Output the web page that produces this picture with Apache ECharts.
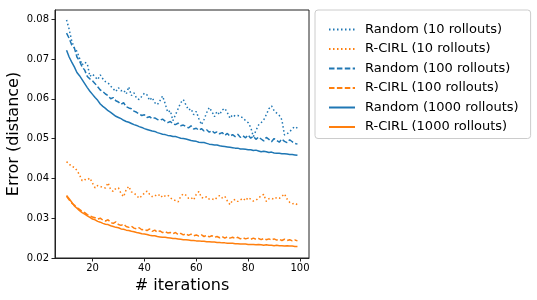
<!DOCTYPE html>
<html>
<head>
<meta charset="utf-8">
<script src="https://cdn.jsdelivr.net/npm/echarts@6/dist/echarts.min.js"></script>
<style>html,body{margin:0;padding:0;background:#fff}#c{width:537px;height:300px}</style>
</head>
<body>
<div id="c"></div>
<script>
const iterStart = 10;
const xTicks = [20, 40, 60, 80, 100];
const yTicks = [0.02, 0.03, 0.04, 0.05, 0.06, 0.07, 0.08];
const seriesNames = ["Random (10 rollouts)", "R-CIRL (10 rollouts)", "Random (100 rollouts)", "R-CIRL (100 rollouts)", "Random (1000 rollouts)", "R-CIRL (1000 rollouts)"];

const random10 = [0.0798,0.0775,0.0745,0.0728,0.0719,0.0702,0.0685,0.0692,0.0688,0.0656,
0.0662,0.0655,0.0648,0.0660,0.0650,0.0643,0.0640,0.0632,0.0625,0.0618,
0.0628,0.0620,0.0622,0.0612,0.0630,0.0608,0.0615,0.0601,0.0598,0.0606,
0.0614,0.0610,0.0596,0.0603,0.0590,0.0585,0.0595,0.0607,0.0588,0.0566,
0.0570,0.0545,0.0560,0.0575,0.0590,0.0598,0.0585,0.0572,0.0575,0.0560,
0.0568,0.0550,0.0535,0.0548,0.0565,0.0578,0.0568,0.0555,0.0568,0.0560,
0.0572,0.0576,0.0565,0.0551,0.0560,0.0556,0.0558,0.0555,0.0552,0.0545,
0.0540,0.0528,0.0505,0.0520,0.0534,0.0540,0.0547,0.0560,0.0575,0.0582,
0.0570,0.0564,0.0558,0.0547,0.0509,0.0512,0.0517,0.0525,0.0530,0.0526];

const rcirl10 = [0.0442,0.0436,0.0430,0.0428,0.0420,0.0409,0.0394,0.0397,0.0396,0.0401,
0.0388,0.0376,0.0382,0.0380,0.0377,0.0376,0.0389,0.0372,0.0367,0.0375,
0.0376,0.0362,0.0354,0.0372,0.0380,0.0366,0.0363,0.0357,0.0350,0.0356,
0.0363,0.0368,0.0360,0.0354,0.0358,0.0355,0.0360,0.0352,0.0356,0.0358,
0.0351,0.0347,0.0344,0.0341,0.0355,0.0361,0.0358,0.0350,0.0352,0.0346,
0.0360,0.0367,0.0352,0.0350,0.0354,0.0348,0.0349,0.0346,0.0352,0.0357,
0.0351,0.0355,0.0343,0.0334,0.0345,0.0347,0.0342,0.0346,0.0350,0.0344,
0.0352,0.0348,0.0343,0.0345,0.0351,0.0356,0.0360,0.0342,0.0349,0.0350,
0.0347,0.0352,0.0350,0.0355,0.0361,0.0348,0.0340,0.0336,0.0338,0.0334];

const random100 = [0.0765,0.0752,0.0735,0.0728,0.0705,0.0695,0.0680,0.0672,0.0656,0.0650,
0.0645,0.0638,0.0630,0.0622,0.0618,0.0612,0.0608,0.0600,0.0603,0.0595,
0.0592,0.0586,0.0590,0.0580,0.0577,0.0575,0.0569,0.0566,0.0562,0.0558,
0.0560,0.0553,0.0555,0.0550,0.0552,0.0548,0.0546,0.0549,0.0544,0.0540,
0.0543,0.0537,0.0535,0.0539,0.0532,0.0534,0.0530,0.0527,0.0532,0.0524,
0.0526,0.0521,0.0525,0.0519,0.0522,0.0516,0.0520,0.0514,0.0517,0.0512,
0.0515,0.0508,0.0513,0.0506,0.0510,0.0505,0.0511,0.0503,0.0507,0.0502,
0.0509,0.0501,0.0506,0.0498,0.0504,0.0499,0.0494,0.0503,0.0498,0.0492,
0.0500,0.0495,0.0491,0.0499,0.0493,0.0490,0.0497,0.0492,0.0488,0.0486];

const rcirl100 = [0.0355,0.0346,0.0338,0.0333,0.0327,0.0322,0.0317,0.0314,0.0309,0.0306,
0.0303,0.0301,0.0298,0.0300,0.0295,0.0293,0.0296,0.0289,0.0287,0.0291,
0.0284,0.0282,0.0285,0.0279,0.0277,0.0280,0.0275,0.0273,0.0276,0.0271,
0.0272,0.0269,0.0273,0.0267,0.0270,0.0265,0.0268,0.0264,0.0266,0.0263,
0.0264,0.0261,0.0264,0.0259,0.0262,0.0258,0.0261,0.0257,0.0260,0.0256,
0.0258,0.0255,0.0258,0.0254,0.0257,0.0253,0.0256,0.0252,0.0254,0.0251,
0.0254,0.0250,0.0253,0.0250,0.0252,0.0249,0.0252,0.0248,0.0251,0.0248,
0.0250,0.0247,0.0250,0.0247,0.0249,0.0246,0.0249,0.0246,0.0248,0.0245,
0.0248,0.0245,0.0247,0.0244,0.0247,0.0244,0.0246,0.0243,0.0245,0.0243];

const random1000 = [0.0722,0.0705,0.0692,0.0680,0.0666,0.0658,0.0648,0.0638,0.0628,0.0619,
0.0611,0.0603,0.0596,0.0587,0.0581,0.0576,0.0570,0.0566,0.0561,0.0556,
0.0553,0.0550,0.0546,0.0543,0.0541,0.0538,0.0535,0.0533,0.0530,0.0528,
0.0525,0.0523,0.0521,0.0519,0.0518,0.0515,0.0513,0.0511,0.0510,0.0508,
0.0507,0.0505,0.0505,0.0503,0.0501,0.0500,0.0499,0.0497,0.0495,0.0494,
0.0493,0.0491,0.0490,0.0490,0.0488,0.0486,0.0485,0.0484,0.0484,0.0482,
0.0481,0.0480,0.0479,0.0478,0.0477,0.0476,0.0476,0.0474,0.0474,0.0473,
0.0472,0.0472,0.0470,0.0471,0.0469,0.0467,0.0468,0.0467,0.0465,0.0466,
0.0464,0.0463,0.0463,0.0462,0.0462,0.0461,0.0460,0.0460,0.0459,0.0458];

const rcirl1000 = [0.0357,0.0349,0.0340,0.0331,0.0325,0.0319,0.0314,0.0310,0.0306,0.0302,
0.0298,0.0296,0.0292,0.0290,0.0287,0.0285,0.0284,0.0281,0.0279,0.0277,
0.0276,0.0273,0.0272,0.0270,0.0269,0.0267,0.0266,0.0264,0.0263,0.0261,
0.0260,0.0259,0.0257,0.0256,0.0256,0.0254,0.0253,0.0252,0.0252,0.0251,
0.0250,0.0249,0.0249,0.0248,0.0247,0.0246,0.0246,0.0245,0.0244,0.0244,
0.0243,0.0243,0.0242,0.0242,0.0241,0.0241,0.0240,0.0240,0.0239,0.0239,
0.0238,0.0238,0.0237,0.0237,0.0237,0.0236,0.0236,0.0235,0.0235,0.0235,
0.0234,0.0234,0.0234,0.0233,0.0234,0.0233,0.0232,0.0233,0.0232,0.0232,
0.0231,0.0232,0.0231,0.0231,0.0230,0.0231,0.0230,0.0230,0.0229,0.0229];

const BLUE = '#1f77b4', ORANGE = '#ff7f0e';
const DOT = [1.5, 2.5], DASH = [5.5, 2.4];
const FONT = 'DejaVu Sans';

function pairs(arr) { return arr.map((v, k) => [iterStart + k, v]); }
function mk(name, data, color, dash) {
  return {
    name: name, type: 'line', data: pairs(data), showSymbol: false, symbol: 'none',
    animation: false, silent: true,
    lineStyle: { color: color, width: 1.5, type: dash },
    itemStyle: { color: color }
  };
}

const chart = echarts.init(document.getElementById('c'), null, { renderer: 'canvas' });
chart.setOption({
  backgroundColor: '#fff',
  animation: false,
  grid: { left: 55, right: 228, top: 10, bottom: 42, show: true, borderColor: '#222', borderWidth: 1, backgroundColor: 'transparent' },
  xAxis: {
    type: 'value', min: 5.55, max: 103.45,
    name: '# iterations', nameLocation: 'middle', nameGap: 20,
    nameTextStyle: { fontFamily: FONT, fontSize: 16, color: '#000' },
    axisLine: { show: true, onZero: false, lineStyle: { color: '#222', width: 1 } },
    axisTick: { show: true, length: 3.5, customValues: xTicks, lineStyle: { color: '#222' } },
    axisLabel: { customValues: xTicks, fontFamily: FONT, fontSize: 10, color: '#000', margin: 5 },
    splitLine: { show: false }
  },
  yAxis: {
    type: 'value', min: 0.02, max: 0.0823,
    name: 'Error (distance)', nameLocation: 'middle', nameGap: 33, nameRotate: 90,
    nameTextStyle: { fontFamily: FONT, fontSize: 16, color: '#000' },
    axisLine: { show: true, onZero: false, lineStyle: { color: '#222', width: 1 } },
    axisTick: { show: true, length: 3.5, customValues: yTicks, lineStyle: { color: '#222' } },
    axisLabel: { customValues: yTicks, fontFamily: FONT, fontSize: 10, color: '#000', margin: 6,
      formatter: v => v.toFixed(2) },
    splitLine: { show: false }
  },
  legend: {
    orient: 'vertical', left: 315, top: 10,
    data: seriesNames,
    itemWidth: 26, itemHeight: 14, itemGap: 6.5,
    padding: [13, 12, 5, 13],
    borderColor: '#ccc', borderWidth: 1, borderRadius: 3,
    backgroundColor: '#fff',
    selectedMode: false,
    itemStyle: { opacity: 0, borderWidth: 0 },
    textStyle: { fontFamily: FONT, fontSize: 13, color: '#000', padding: [0, 0, 0, 5] }
  },
  series: [
    mk(seriesNames[0], random10, BLUE, DOT),
    mk(seriesNames[1], rcirl10, ORANGE, DOT),
    mk(seriesNames[2], random100, BLUE, DASH),
    mk(seriesNames[3], rcirl100, ORANGE, DASH),
    mk(seriesNames[4], random1000, BLUE, 'solid'),
    mk(seriesNames[5], rcirl1000, ORANGE, 'solid')
  ]
});
</script>
</body>
</html>
